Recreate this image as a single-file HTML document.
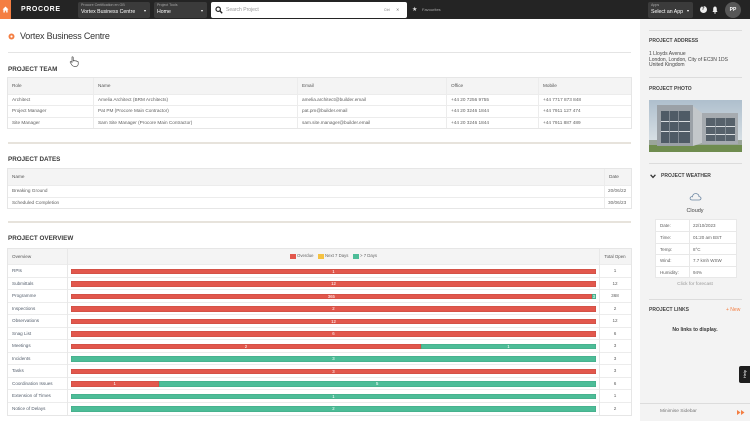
<!DOCTYPE html>
<html><head><meta charset="utf-8"><title>Vortex Business Centre</title>
<style>
*{margin:0;padding:0;box-sizing:border-box}
html,body{width:750px;height:421px;overflow:hidden;background:#fff}
body{position:relative;font-family:"Liberation Sans",Arial,sans-serif;color:#555}
.a{position:absolute}
.t{position:absolute;white-space:nowrap;line-height:10px}
.dd{position:absolute;background:#3b3b3b;border-radius:2px;height:16px;top:2px}
.dd .l{position:absolute;left:3px;top:1px;font-size:3.6px;color:#a8a8a8;line-height:5px;white-space:nowrap}
.dd .v{position:absolute;left:3px;top:7px;font-size:5.2px;color:#fff;line-height:7px;white-space:nowrap}
.car{position:absolute;width:0;height:0;border-left:1.6px solid transparent;border-right:1.6px solid transparent;border-top:2px solid #fff}
.h1{font-size:6.3px;font-weight:bold;color:#3a3a3a}
.h2{font-size:5px;font-weight:bold;color:#444}
.tb{position:absolute;left:8px;width:623px;box-shadow:0 0 0 1px #e6e6e6;background:#fff}
.row{position:absolute;left:0;width:623px;border-top:1px solid #ececec}
.hd{background:#f4f4f4;border-top:none}
.c{position:absolute;top:0;height:100%;padding-left:4px;font-size:4.7px;color:#5f5f5f;white-space:nowrap}
.hd .c{color:#555}
.bl{border-left:1px solid #ececec}
.sep{position:absolute;left:8px;width:623px;height:2px;background:#e7e3dc}
.vl{position:absolute;top:0;width:1px;background:#e8e8e8}
.bar{position:absolute;top:3.5px;height:5.5px;line-height:5.5px;font-size:4.3px;color:#fff;text-align:center;box-shadow:inset 0 0 0 0.5px rgba(0,0,0,.12)}
.r{background:#e2574c}.g{background:#4dbd98}
.lb{position:absolute;left:4px;top:0;font-size:4.6px;color:#56606e;white-space:nowrap}
.tot{position:absolute;left:591px;width:32px;top:0;text-align:center;font-size:4.6px;color:#5f5f5f}
.sl{position:absolute;left:649px;width:93px;height:1px;background:#dcdcdc}
.wr{position:absolute;left:0;width:80px;height:11.4px;line-height:11.4px;border-top:1px solid #e8e8e8;font-size:4.5px;color:#5f5f5f}
.wr span{position:absolute;white-space:nowrap}
</style></head><body>

<!-- header -->
<div class="a" style="left:0;top:0;width:750px;height:19px;background:#242424"></div>
<div class="a" style="left:0;top:0;width:11px;height:19px;background:#f47e42"></div>
<svg class="a" style="left:2px;top:6px" width="7" height="7" viewBox="0 0 7 7"><path d="M3.5 0.5 L6.5 3.5 L5.6 3.5 L5.6 6.5 L4.2 6.5 L4.2 4.6 L2.8 4.6 L2.8 6.5 L1.4 6.5 L1.4 3.5 L0.5 3.5 Z" fill="#fff"/></svg>
<div class="t" style="left:21px;top:5px;font-size:7px;font-weight:bold;color:#fff;letter-spacing:0.6px">PROCORE</div>

<div class="dd" style="left:78px;width:72px"><div class="l">Procore Certification en GB</div><div class="v">Vortex Business Centre</div><div class="car" style="left:66px;top:7.5px"></div></div>
<div class="dd" style="left:154px;width:53px"><div class="l">Project Tools</div><div class="v">Home</div><div class="car" style="left:47px;top:7.5px"></div></div>

<div class="a" style="left:211px;top:2px;width:196px;height:16px;background:#fff;border-radius:2px"></div>
<svg class="a" style="left:215px;top:6px" width="8" height="8" viewBox="0 0 8 8"><circle cx="3.2" cy="3.2" r="2.2" fill="none" stroke="#222" stroke-width="1.2"/><path d="M4.8 4.8 L7.2 7.2" stroke="#222" stroke-width="1.4"/></svg>
<div class="t" style="left:226px;top:5px;font-size:5px;color:#999">Search Project</div>
<div class="t" style="left:384px;top:5px;font-size:3.6px;color:#777">Ctrl</div>
<div class="t" style="left:396px;top:5px;font-size:4px;color:#777">✕</div>
<div class="t" style="left:412px;top:5px;font-size:6px;color:#ddd">★</div>
<div class="t" style="left:422px;top:5px;font-size:4px;color:#aaa">Favourites</div>

<div class="dd" style="left:648px;width:45px"><div class="l">Apps</div><div class="v">Select an App</div><div class="car" style="left:39px;top:7.5px"></div></div>
<div class="a" style="left:699.5px;top:6px;width:7px;height:7px;border-radius:50%;background:#eee;color:#242424;font-size:5px;font-weight:bold;text-align:center;line-height:7px">?</div>
<svg class="a" style="left:712px;top:5.5px" width="6" height="8" viewBox="0 0 6 8"><path d="M3 0.5 C1.5 0.5 1.2 2 1.2 3.5 L1.2 5 L0.4 6 L5.6 6 L4.8 5 L4.8 3.5 C4.8 2 4.5 0.5 3 0.5 Z" fill="#eee"/><circle cx="3" cy="6.9" r="0.8" fill="#eee"/></svg>
<div class="a" style="left:725px;top:1.5px;width:16px;height:16px;border-radius:50%;background:#575757;color:#fff;font-size:5px;font-weight:bold;text-align:center;line-height:16px">PP</div>

<!-- sidebar bg -->
<div class="a" style="left:640px;top:19px;width:110px;height:402px;background:#f3f3f3"></div>

<!-- title -->
<svg class="a" style="left:8px;top:33px" width="7" height="7" viewBox="0 0 7 7"><circle cx="3.5" cy="3.5" r="3" fill="#f47e42"/><circle cx="3.5" cy="3.5" r="1.1" fill="#fff"/></svg>
<div class="t" style="left:20px;top:31px;font-size:9px;color:#333;letter-spacing:-0.2px">Vortex Business Centre</div>
<div class="a" style="left:8px;top:52px;width:623px;height:1px;background:#e4e4e4"></div>

<!-- cursor -->
<svg class="a" style="left:69px;top:56px" width="10" height="11" viewBox="0 0 10 11"><path d="M3 1 C3.6 0.6 4.2 1 4.2 1.6 L4.2 5 L5 4.6 C5.6 4.4 6 4.8 6 5 L6.8 4.8 C7.3 4.7 7.7 5 7.7 5.3 L8.4 5.3 C8.9 5.3 9.2 5.7 9.2 6.2 L9.2 8 C9.2 9.3 8.3 10.3 7 10.3 L5 10.3 C4 10.3 3.4 9.8 2.9 9 L1.2 6.4 C0.9 5.9 1.4 5.3 2 5.6 L3 6.4 L3 1.6 Z" fill="#fff" stroke="#333" stroke-width="0.6"/></svg>

<!-- PROJECT TEAM -->
<div class="t h1" style="left:8px;top:65px">PROJECT TEAM</div>
<div class="tb" style="top:78px;height:50px">
  <div class="row hd" style="top:0;height:16px;line-height:16px">
    <div class="c" style="left:0;width:85px">Role</div>
    <div class="c bl" style="left:85px;width:204px">Name</div>
    <div class="c bl" style="left:289px;width:149px">Email</div>
    <div class="c bl" style="left:438px;width:92px">Office</div>
    <div class="c bl" style="left:530px;width:93px">Mobile</div>
  </div>
  <div class="row" style="top:16px;height:11.3px;line-height:10.3px">
    <div class="c" style="left:0;width:85px">Architect</div>
    <div class="c bl" style="left:85px;width:204px">Amelia Architect (BRM Architects)</div>
    <div class="c bl" style="left:289px;width:149px">amelia.architect@builder.email</div>
    <div class="c bl" style="left:438px;width:92px">+44 20 7256 9755</div>
    <div class="c bl" style="left:530px;width:93px">+44 7717 873 848</div>
  </div>
  <div class="row" style="top:27.3px;height:11.3px;line-height:10.3px">
    <div class="c" style="left:0;width:85px">Project Manager</div>
    <div class="c bl" style="left:85px;width:204px">Pat PM (Procore Main Contractor)</div>
    <div class="c bl" style="left:289px;width:149px">pat.pm@builder.email</div>
    <div class="c bl" style="left:438px;width:92px">+44 20 3246 1844</div>
    <div class="c bl" style="left:530px;width:93px">+44 7911 127 474</div>
  </div>
  <div class="row" style="top:38.6px;height:11.4px;line-height:10.4px">
    <div class="c" style="left:0;width:85px">Site Manager</div>
    <div class="c bl" style="left:85px;width:204px">Sam Site Manager (Procore Main Contractor)</div>
    <div class="c bl" style="left:289px;width:149px">sam.site.manager@builder.email</div>
    <div class="c bl" style="left:438px;width:92px">+44 20 3246 1844</div>
    <div class="c bl" style="left:530px;width:93px">+44 7911 887 489</div>
  </div>
</div>
<div class="sep" style="top:141.5px"></div>

<!-- PROJECT DATES -->
<div class="t h1" style="left:8px;top:155px">PROJECT DATES</div>
<div class="tb" style="top:169px;height:39px">
  <div class="row hd" style="top:0;height:16px;line-height:16px">
    <div class="c" style="left:0;width:596px">Name</div>
    <div class="c bl" style="left:596px;width:27px">Date</div>
  </div>
  <div class="row" style="top:16px;height:11.5px;line-height:10.5px">
    <div class="c" style="left:0;width:596px">Breaking Ground</div>
    <div class="c bl" style="left:596px;width:27px;padding-left:3px">20/06/22</div>
  </div>
  <div class="row" style="top:27.5px;height:11.5px;line-height:10.5px">
    <div class="c" style="left:0;width:596px">Scheduled Completion</div>
    <div class="c bl" style="left:596px;width:27px;padding-left:3px">30/06/23</div>
  </div>
</div>
<div class="sep" style="top:220.5px"></div>

<!-- PROJECT OVERVIEW -->
<div class="t h1" style="left:8px;top:234px">PROJECT OVERVIEW</div>
<div class="tb" style="top:248.5px;height:166px">
  <div class="row hd" style="top:0;height:15.5px;line-height:15.5px">
    <span class="lb" style="color:#555">Overview</span>
    <div class="a" style="left:282px;top:5px;width:6px;height:5.5px;background:#e2574c"></div>
    <div class="t" style="left:289px;top:2.8px;font-size:4.3px;color:#666">Overdue</div>
    <div class="a" style="left:310px;top:5px;width:6px;height:5.5px;background:#f5c242"></div>
    <div class="t" style="left:317px;top:2.8px;font-size:4.3px;color:#666">Next 7 Days</div>
    <div class="a" style="left:345px;top:5px;width:6px;height:5.5px;background:#4dbd98"></div>
    <div class="t" style="left:352px;top:2.8px;font-size:4.3px;color:#666">&gt; 7 Days</div>
    <span class="tot" style="color:#555;font-size:4.4px">Total Open</span>
  </div>

  <div class="row" style="top:15.5px;height:12.5px;line-height:12.5px"><span class="lb">RPIs</span><div class="bar r" style="left:63px;width:525px">1</div><span class="tot">1</span></div>
  <div class="row" style="top:28px;height:12.5px;line-height:12.5px"><span class="lb">Submittals</span><div class="bar r" style="left:63px;width:525px">12</div><span class="tot">12</span></div>
  <div class="row" style="top:40.5px;height:12.5px;line-height:12.5px"><span class="lb">Programme</span><div class="bar r" style="left:63px;width:520.7px">365</div><div class="bar g" style="left:583.7px;width:4.3px">3</div><span class="tot">368</span></div>
  <div class="row" style="top:53px;height:12.5px;line-height:12.5px"><span class="lb">Inspections</span><div class="bar r" style="left:63px;width:525px">2</div><span class="tot">2</span></div>
  <div class="row" style="top:65.5px;height:12.5px;line-height:12.5px"><span class="lb">Observations</span><div class="bar r" style="left:63px;width:525px">12</div><span class="tot">12</span></div>
  <div class="row" style="top:78px;height:12.5px;line-height:12.5px"><span class="lb">Snag List</span><div class="bar r" style="left:63px;width:525px">6</div><span class="tot">6</span></div>
  <div class="row" style="top:90.5px;height:12.5px;line-height:12.5px"><span class="lb">Meetings</span><div class="bar r" style="left:63px;width:350px">2</div><div class="bar g" style="left:413px;width:175px">1</div><span class="tot">3</span></div>
  <div class="row" style="top:103px;height:12.5px;line-height:12.5px"><span class="lb">Incidents</span><div class="bar g" style="left:63px;width:525px">3</div><span class="tot">3</span></div>
  <div class="row" style="top:115.5px;height:12.5px;line-height:12.5px"><span class="lb">Tasks</span><div class="bar r" style="left:63px;width:525px">3</div><span class="tot">3</span></div>
  <div class="row" style="top:128px;height:12.5px;line-height:12.5px"><span class="lb">Coordination Issues</span><div class="bar r" style="left:63px;width:87.5px">1</div><div class="bar g" style="left:150.5px;width:437.5px">5</div><span class="tot">6</span></div>
  <div class="row" style="top:140.5px;height:12.5px;line-height:12.5px"><span class="lb">Extension of Times</span><div class="bar g" style="left:63px;width:525px">1</div><span class="tot">1</span></div>
  <div class="row" style="top:153px;height:13px;line-height:12.5px"><span class="lb">Notice of Delays</span><div class="bar g" style="left:63px;width:525px">2</div><span class="tot">2</span></div>

  <div class="vl" style="left:59px;height:166px"></div>
  <div class="vl" style="left:591px;height:166px"></div>
</div>

<!-- SIDEBAR -->
<div class="sl" style="top:29.5px"></div>
<div class="t h2" style="left:649px;top:36px">PROJECT ADDRESS</div>
<div class="t" style="left:649px;top:49px;font-size:5px;color:#444">1 Lloyds Avenue</div>
<div class="t" style="left:649px;top:54.5px;font-size:5px;color:#444">London, London, City of EC3N 1DS</div>
<div class="t" style="left:649px;top:60px;font-size:5px;color:#444">United Kingdom</div>
<div class="sl" style="top:77px"></div>
<div class="t h2" style="left:649px;top:84px">PROJECT PHOTO</div>

<svg class="a" style="left:649px;top:100px" width="93" height="52" viewBox="0 0 93 52">
  <defs><linearGradient id="sky" x1="0" y1="0" x2="0" y2="1"><stop offset="0" stop-color="#aebfcd"/><stop offset="1" stop-color="#e3e8eb"/></linearGradient></defs>
  <rect width="93" height="52" fill="url(#sky)"/>
  <rect x="0" y="40" width="93" height="6" fill="#9aa59a"/>
  <rect x="0" y="45" width="93" height="7" fill="#6f8c4f"/>
  <polygon points="44,6 53,13 53,43 44,46" fill="#c3c7ca"/>
  <rect x="8" y="5" width="36" height="41" fill="#9ba1a7"/>
  <rect x="12" y="11" width="29" height="32" fill="#4f5b66"/>
  <rect x="12" y="21" width="29" height="1" fill="#d8dcdf"/>
  <rect x="12" y="31" width="29" height="1" fill="#d8dcdf"/>
  <rect x="20" y="11" width="0.8" height="32" fill="#8b949c"/>
  <rect x="29" y="11" width="0.8" height="32" fill="#8b949c"/>
  <rect x="53" y="13" width="36" height="31" fill="#a6abb0"/>
  <rect x="57" y="18" width="29" height="23" fill="#56616b"/>
  <rect x="57" y="26" width="29" height="1" fill="#d8dcdf"/>
  <rect x="57" y="34" width="29" height="1" fill="#d8dcdf"/>
  <rect x="66" y="18" width="0.8" height="23" fill="#8b949c"/>
  <rect x="76" y="18" width="0.8" height="23" fill="#8b949c"/>
</svg>

<div class="sl" style="top:163px"></div>
<svg class="a" style="left:650px;top:173.5px" width="6" height="5" viewBox="0 0 6 5"><path d="M0.6 0.8 L3 3.4 L5.4 0.8" fill="none" stroke="#333" stroke-width="1.3"/></svg>
<div class="t h2" style="left:661px;top:171px">PROJECT WEATHER</div>
<svg class="a" style="left:689px;top:192px" width="13" height="9" viewBox="0 0 13 9"><path d="M3 8 C1.2 8 0.6 6.4 1.4 5.4 C2 4.6 3 4.6 3.4 4.8 C3.6 2.6 5.4 1.2 7.4 1.6 C9.2 2 10 3.4 10 4.6 C11.4 4.6 12.2 5.6 12 6.6 C11.8 7.6 11 8 10.2 8 Z" fill="none" stroke="#6d87a3" stroke-width="0.8"/></svg>
<div class="t" style="left:640px;width:110px;text-align:center;top:206px;font-size:5.5px;color:#444">Cloudy</div>

<div class="a" style="left:656px;top:220px;width:80px;height:57px;background:#fff;box-shadow:0 0 0 1px #e8e8e8">
  <div class="wr" style="top:0;border-top:none"><span style="left:4px">Date:</span><span style="left:37px">22/10/2023</span></div>
  <div class="wr" style="top:11.4px"><span style="left:4px">Time:</span><span style="left:37px">01:20 am BST</span></div>
  <div class="wr" style="top:22.8px"><span style="left:4px">Temp:</span><span style="left:37px">8°C</span></div>
  <div class="wr" style="top:34.2px"><span style="left:4px">Wind:</span><span style="left:37px">7.7 kmh WSW</span></div>
  <div class="wr" style="top:45.6px"><span style="left:4px">Humidity:</span><span style="left:37px">94%</span></div>
  <div class="a" style="left:33px;top:0;width:1px;height:57px;background:#e8e8e8"></div>
</div>
<div class="t" style="left:640px;width:110px;text-align:center;top:280px;font-size:4.8px;color:#999">Click for forecast</div>

<div class="sl" style="top:298.5px"></div>
<div class="t h2" style="left:649px;top:305px">PROJECT LINKS</div>
<div class="t" style="left:726px;top:305px;font-size:5px;color:#f47e42">+ New</div>
<div class="t" style="left:640px;width:110px;text-align:center;top:325px;font-size:5px;font-weight:bold;color:#333">No links to display.</div>

<div class="a" style="left:739px;top:366px;width:11px;height:17px;background:#1e1e1e;border-radius:2px 0 0 2px"></div>
<div class="t" style="left:739px;top:369.5px;width:17px;height:10px;font-size:4px;color:#fff;text-align:center;transform-origin:0 0;transform:translate(1px,12.5px) rotate(-90deg)">Help</div>

<div class="a" style="left:640px;top:403px;width:110px;height:1px;background:#dcdcdc"></div>
<div class="t" style="left:660px;top:407px;font-size:4.8px;color:#777">Minimise Sidebar</div>
<svg class="a" style="left:737px;top:409.5px" width="8" height="5" viewBox="0 0 8 5"><path d="M0 0 L3.5 2.5 L0 5 Z M4 0 L7.5 2.5 L4 5 Z" fill="#f47e42"/></svg>

</body></html>
